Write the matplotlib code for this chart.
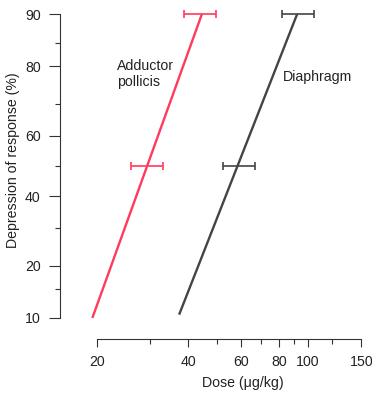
import math
import numpy as np
import matplotlib
matplotlib.use("Agg")
import matplotlib.pyplot as plt
from matplotlib.ticker import FixedLocator, NullFormatter, FixedFormatter

plt.rcParams['font.family'] = ['Liberation Sans', 'DejaVu Sans']

# ---- data ----
adductor_dose = [19.3, 44.5]
adductor_resp = [10, 90]
adductor_err_dose = [29.3, 44.0]
adductor_err_resp = [50, 90]
adductor_err_lo = [25.9, 38.8]
adductor_err_hi = [33.1, 49.6]

diaphragm_dose = [37.4, 92.0]
diaphragm_resp = [10.5, 90]
diaphragm_err_dose = [58.1, 92.0]
diaphragm_err_resp = [50, 90]
diaphragm_err_lo = [52.3, 82.0]
diaphragm_err_hi = [66.7, 104.6]

y_major = [10, 20, 40, 60, 80, 90]
y_minor = [15, 30, 50, 70, 85]
x_major = [20, 40, 60, 80, 100, 150]
x_minor = [30, 50, 70, 90, 120]

# ---- probit scale helpers ----
def _ppf(p):
    # Acklam's approximation of inverse normal CDF
    a = [-3.969683028665376e+01, 2.209460984245205e+02, -2.759285104469687e+02,
         1.383577518672690e+02, -3.066479806614716e+01, 2.506628277459239e+00]
    b = [-5.447609879822406e+01, 1.615858368580409e+02, -1.556989798598866e+02,
         6.680131188771972e+01, -1.328068155288572e+01]
    c = [-7.784894002430293e-03, -3.223964580411365e-01, -2.400758277161838e+00,
         -2.549732539343734e+00, 4.374664141464968e+00, 2.938163982698783e+00]
    d = [7.784695709041462e-03, 3.224671290700398e-01, 2.445134137142996e+00,
         3.754408661907416e+00]
    p = min(max(p, 1e-9), 1 - 1e-9)
    pl = 0.02425
    if p < pl:
        q = math.sqrt(-2 * math.log(p))
        return (((((c[0]*q+c[1])*q+c[2])*q+c[3])*q+c[4])*q+c[5]) / ((((d[0]*q+d[1])*q+d[2])*q+d[3])*q+1)
    if p > 1 - pl:
        q = math.sqrt(-2 * math.log(1 - p))
        return -(((((c[0]*q+c[1])*q+c[2])*q+c[3])*q+c[4])*q+c[5]) / ((((d[0]*q+d[1])*q+d[2])*q+d[3])*q+1)
    q = p - 0.5
    r = q * q
    return (((((a[0]*r+a[1])*r+a[2])*r+a[3])*r+a[4])*r+a[5])*q / (((((b[0]*r+b[1])*r+b[2])*r+b[3])*r+b[4])*r+1)

def forward(y):
    y = np.asarray(y, dtype=float)
    return np.vectorize(lambda v: _ppf(v / 100.0))(y) if y.size else y

def inverse(z):
    z = np.asarray(z, dtype=float)
    return np.vectorize(lambda v: 50.0 * (1 + math.erf(v / math.sqrt(2))))(z) if z.size else z

# ---- figure ----
W, H = 372, 395
fig = plt.figure(figsize=(W / 100, H / 100), dpi=100)
ax_l, ax_r, ax_t, ax_b = 60, 365, 10, 339
ax = fig.add_axes([ax_l / W, (H - ax_b) / H, (ax_r - ax_l) / W, (ax_b - ax_t) / H])

ax.set_xscale('log')
ax.set_yscale('function', functions=(forward, inverse))
ax.set_xlim(15.08, 154.3)
ax.set_ylim(7.23, 90.58)

red = '#ff3a5c'
dark = '#444444'

ax.plot(adductor_dose, adductor_resp, color=red, lw=1.7, solid_capstyle='butt')
ax.errorbar(adductor_err_dose, adductor_err_resp,
            xerr=[np.array(adductor_err_dose) - np.array(adductor_err_lo),
                  np.array(adductor_err_hi) - np.array(adductor_err_dose)],
            fmt='none', ecolor=red, elinewidth=1.2, capsize=3, capthick=1.2)

ax.plot(diaphragm_dose, diaphragm_resp, color=dark, lw=1.7, solid_capstyle='butt')
ax.errorbar(diaphragm_err_dose, diaphragm_err_resp,
            xerr=[np.array(diaphragm_err_dose) - np.array(diaphragm_err_lo),
                  np.array(diaphragm_err_hi) - np.array(diaphragm_err_dose)],
            fmt='none', ecolor=dark, elinewidth=1.2, capsize=3, capthick=1.2)

# spines
for s in ['top', 'right']:
    ax.spines[s].set_visible(False)
ax.spines['left'].set_bounds(10, 90)
ax.spines['bottom'].set_bounds(20, 150)
ax.spines['left'].set_color('#333333')
ax.spines['bottom'].set_color('#333333')

ax.yaxis.set_major_locator(FixedLocator(y_major))
ax.yaxis.set_major_formatter(FixedFormatter([str(v) for v in y_major]))
ax.yaxis.set_minor_locator(FixedLocator(y_minor))
ax.yaxis.set_minor_formatter(NullFormatter())
ax.xaxis.set_major_locator(FixedLocator(x_major))
ax.xaxis.set_major_formatter(FixedFormatter([str(v) for v in x_major]))
ax.xaxis.set_minor_locator(FixedLocator(x_minor))
ax.xaxis.set_minor_formatter(NullFormatter())

fs = 10.2
ax.tick_params(axis='y', which='major', length=8, width=0.8, pad=6, labelsize=fs, colors='#333333', labelcolor='#222222')
ax.tick_params(axis='y', which='minor', length=3.5, width=0.8, colors='#333333')
ax.tick_params(axis='x', which='major', length=5.5, width=0.8, pad=6, labelsize=fs, colors='#333333', labelcolor='#222222')
ax.tick_params(axis='x', which='minor', length=3.5, width=0.8, colors='#333333')

ax.set_xlabel('Dose (μg/kg)', fontsize=fs, color='#222222')
ax.xaxis.set_label_coords(0.6, -0.113)
ax.set_ylabel('Depression of response (%)', fontsize=fs, color='#222222')
ax.yaxis.set_label_coords(-0.13, 0.544)

ax.text(0.187, 0.805, 'Adductor\npollicis', transform=ax.transAxes, fontsize=fs,
        color='#222222', ha='left', va='center', linespacing=1.2)
ax.text(0.731, 0.796, 'Diaphragm', transform=ax.transAxes, fontsize=fs,
        color='#222222', ha='left', va='center')

fig.savefig('out.png', dpi=100)
